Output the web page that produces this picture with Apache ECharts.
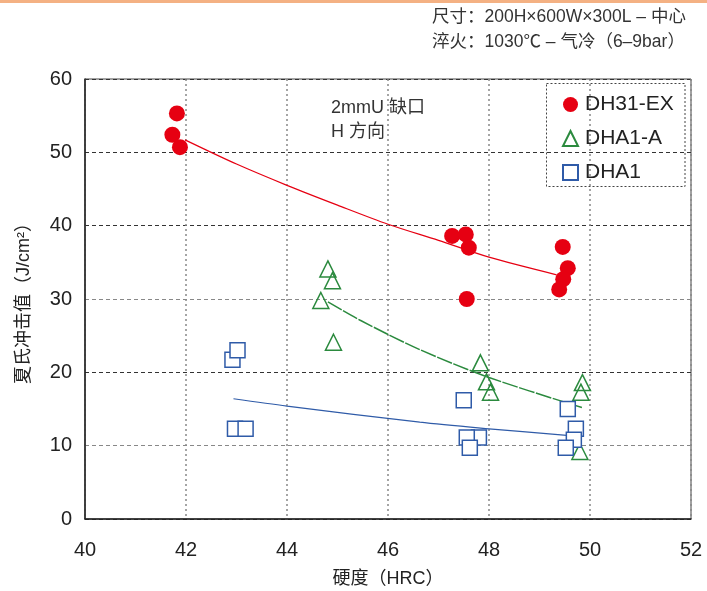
<!DOCTYPE html>
<html><head><meta charset="utf-8">
<script src="https://cdn.jsdelivr.net/npm/echarts@6/dist/echarts.min.js"></script>
<style>html,body{margin:0;padding:0;background:#fff}#c{width:707px;height:591px}</style>
</head><body><div id="c"></div>
<script>
// ---- data ----
var xTicks = [40, 42, 44, 46, 48, 50, 52];
var yTicks = [0, 10, 20, 30, 40, 50, 60];
var seriesNames = ['DH31-EX', 'DHA1-A', 'DHA1'];
var dh31ex = [[41.82,55.3],[41.73,52.4],[41.88,50.7],[47.27,38.6],[47.54,38.8],[47.60,37.0],[47.56,30.0],[49.46,37.1],[49.56,34.2],[49.47,32.7],[49.39,31.3]];
var dha1a = [[44.81,34.1],[44.90,32.5],[44.67,29.8],[44.92,24.1],[47.83,21.3],[47.95,18.7],[48.03,17.3],[49.85,18.6],[49.82,17.3],[49.80,9.2]];
var dha1 = [[42.92,21.7],[43.02,23.0],[42.97,12.3],[43.18,12.3],[47.50,16.2],[47.80,11.1],[47.56,11.1],[47.62,9.7],[49.56,15.0],[49.72,12.3],[49.68,10.8],[49.52,9.7]];
var dh31exTrend = [[41.98,51.7],[43,48.4],[44,45.5],[45,42.8],[46,40.2],[47,38.0],[48,35.7],[49.34,33.3]];
var dha1aTrend = [[44.81,29.6],[45.45,27.1],[46.63,23.1],[48,19.3],[49.84,15.2]];
var dha1Trend = [[42.94,16.4],[44,15.4],[46.63,13.2],[48,12.3],[49.54,11.4]];
var headerLines = ['尺寸：200H×600W×300L – 中心', '淬火：1030℃ – 气冷（6–9bar）'];
var noteLines = ['2mmU 缺口', 'H 方向'];
var xName = '硬度（HRC）';
var yName = '夏氏冲击值（J/cm²）';

var FONT = '"Liberation Sans", "Noto Sans CJK SC", sans-serif';
var RED = '#E60012', GREEN = '#2B8A3E', BLUE = '#2F5BA8';
var chart = echarts.init(document.getElementById('c'), null, {renderer: 'canvas'});
chart.setOption({
  animation: false,
  textStyle: {fontFamily: FONT},
  grid: {left: 85, right: 16, top: 79, bottom: 72, containLabel: false, outerBoundsMode: 'none',
         show: true, borderColor: '#444', borderWidth: 1},
  xAxis: {
    type: 'value', min: xTicks[0], max: xTicks[xTicks.length-1], interval: 2,
    axisLine: {lineStyle: {color: '#222', width: 1.5}},
    axisTick: {show: false},
    axisLabel: {fontSize: 20, color: '#222', margin: 21, fontFamily: FONT},
    splitLine: {show: true, lineStyle: {color: '#888', width: 1.5, type: [2, 3]}},
    name: xName, nameLocation: 'middle', nameGap: 51,
    nameTextStyle: {fontSize: 18, color: '#222', fontFamily: FONT}
  },
  yAxis: {
    type: 'value', min: yTicks[0], max: yTicks[yTicks.length-1], interval: 10,
    axisLine: {show: true, lineStyle: {color: '#222', width: 1.5}},
    axisTick: {show: false},
    axisLabel: {fontSize: 20, color: '#222', margin: 13, fontFamily: FONT},
    splitLine: {show: true, lineStyle: {color: ['#333','#888','#333','#888','#333','#333','#333'], width: 1, type: [4, 3]}},
    name: yName, nameLocation: 'middle', nameGap: 52, nameRotate: 90,
    nameTextStyle: {fontSize: 18, color: '#222', fontFamily: FONT}
  },
  legend: {
    orient: 'vertical', left: 557, top: 89, itemGap: 13, itemWidth: 15, itemHeight: 15,
    data: seriesNames,
    textStyle: {fontSize: 21, color: '#222', lineHeight: 20, padding: [0,0,0,2], fontFamily: FONT}
  },
  series: [
    {type: 'line', data: dh31exTrend, smooth: 0.3, showSymbol: false, symbol: 'none', lineStyle: {color: RED, width: 1.2}, z: 1, silent: true},
    {type: 'line', data: dha1aTrend, smooth: 0.3, showSymbol: false, symbol: 'none', lineStyle: {color: GREEN, width: 1.5, type: [16, 1.5]}, z: 1, silent: true},
    {type: 'line', data: dha1Trend, smooth: 0.3, showSymbol: false, symbol: 'none', lineStyle: {color: BLUE, width: 1.2}, z: 1, silent: true},
    {name: seriesNames[0], type: 'scatter', data: dh31ex, symbol: 'circle', symbolSize: 16,
     itemStyle: {color: RED, opacity: 1}, z: 3},
    {name: seriesNames[1], type: 'scatter', data: dha1a, symbol: 'triangle', symbolSize: [16, 16],
     itemStyle: {color: 'rgba(255,255,255,0)', borderColor: GREEN, borderWidth: 1.5, opacity: 1}, z: 3},
    {name: seriesNames[2], type: 'scatter', data: dha1, symbol: 'rect', symbolSize: 15,
     itemStyle: {color: '#fff', borderColor: BLUE, borderWidth: 1.5, opacity: 1}, z: 3}
  ],
  graphic: [
    {type: 'rect', left: 0, top: 0, shape: {width: 707, height: 3}, style: {fill: '#F4B183'}},
    {type: 'rect', shape: {x: 546.5, y: 83.5, width: 138.5, height: 103}, z: 10,
     style: {fill: 'rgba(0,0,0,0)', stroke: '#444', lineWidth: 1, lineDash: [2, 2]}},
    {type: 'text', left: 432, top: 8, style: {text: headerLines[0], font: '17.5px ' + FONT, fill: '#333'}},
    {type: 'text', left: 432, top: 33, style: {text: headerLines[1], font: '17.5px ' + FONT, fill: '#333'}},
    {type: 'text', left: 331, top: 99, style: {text: noteLines[0], font: '18px ' + FONT, fill: '#333'}},
    {type: 'text', left: 331, top: 123, style: {text: noteLines[1], font: '18px ' + FONT, fill: '#333'}}
  ]
});
</script></body></html>
